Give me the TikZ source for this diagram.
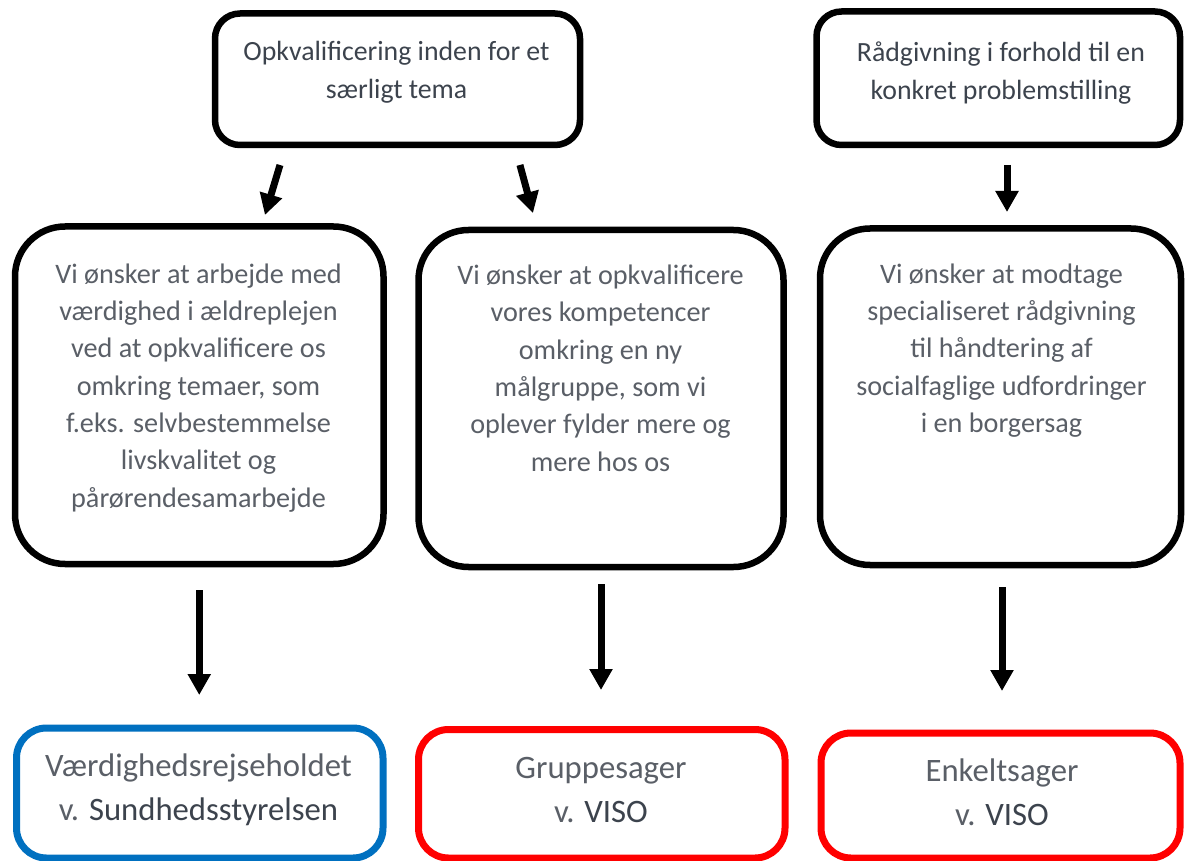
\documentclass[tikz,border=0pt]{standalone}
\usepackage{fontspec}
\setmainfont{Carlito}
\usetikzlibrary{arrows.meta}
\definecolor{darktxt}{HTML}{3C434D}
\definecolor{midtxt}{HTML}{5A5F67}
\definecolor{boxblue}{HTML}{0070C0}
\definecolor{boxred}{HTML}{FF0000}
\begin{document}
\begin{tikzpicture}[x=1pt,y=-1pt,
  box/.style={draw=black, line width=6.5pt, fill=white, inner sep=0pt, outer sep=0pt},
  topbox/.style={box, rounded corners=25pt},
  midbox/.style={box, rounded corners=50pt},
  endbox/.style={line width=7pt, fill=white, inner sep=0pt, outer sep=0pt, rounded corners=30pt},
  toptext/.style={anchor=base, align=center, inner sep=0pt, text=darktxt, font={\fontsize{27.8}{37.5}\selectfont}},
  midtext/.style={anchor=base, align=center, inner sep=0pt, text=midtxt, font={\fontsize{28.2}{37.3}\selectfont}},
  endtext/.style={anchor=base, align=center, inner sep=0pt, text=midtxt, font={\fontsize{32.7}{43.5}\selectfont}},
  arr/.style={line width=7pt, -{Triangle[length=21pt,width=22pt]}}
]
\useasboundingbox (0,0) rectangle (1186,861);
\clip (0,0) rectangle (1186,861);
\fill[white] (0,0) rectangle (1186,861);

% top boxes
\node[topbox, minimum width=365pt, minimum height=131.5pt] (t1) at (397.5,79.25) {};
\node[topbox, minimum width=363.5pt, minimum height=133.5pt] (t2) at (998.25,78.25) {};
% middle boxes
\node[midbox, minimum width=368.5pt, minimum height=337.5pt] (m1) at (199.25,395.25) {};
\node[midbox, minimum width=365pt, minimum height=337pt] (m2) at (601,398.5) {};
\node[midbox, minimum width=361pt, minimum height=336.5pt] (m3) at (1000.5,396.75) {};
% bottom boxes
\node[endbox, draw=boxblue, minimum width=366.5pt, minimum height=130pt] (b1) at (199.75,793) {};
\node[endbox, draw=boxred, minimum width=366.5pt, minimum height=128.5pt] (b2) at (601.75,793.75) {};
\node[endbox, draw=boxred, minimum width=359pt, minimum height=125pt] (b3) at (1000.5,795.5) {};

% texts (anchor base = baseline of the last line)
\node[toptext] (t1txt) at (396.5,98.5) {Opkvalificering inden for et\\særligt tema};
\node[toptext] (t2txt) at (1001,99.5) {Rådgivning i forhold til en\\konkret problemstilling};

\node[midtext] (m1txt) at (198.5,507) {Vi ønsker at arbejde med\\værdighed i ældreplejen\\ved at opkvalificere os\\omkring temaer, som\\f.eks. selvbestemmelse\\livskvalitet og\\pårørendesamarbejde};
\node[midtext] (m2txt) at (600.5,471) {Vi ønsker at opkvalificere\\vores kompetencer\\omkring en ny\\målgruppe, som vi\\oplever fylder mere og\\mere hos os};
\node[midtext] (m3txt) at (1001.5,432.5) {Vi ønsker at modtage\\specialiseret rådgivning\\til håndtering af\\socialfaglige udfordringer\\i en borgersag};

\node[endtext] (b1txt) at (198.5,820) {Værdighedsrejseholdet\\v. \textcolor{darktxt}{Sundhedsstyrelsen}};
\node[endtext] (b2txt) at (601,822) {Gruppesager\\v. \textcolor{darktxt}{VISO}};
\node[endtext] (b3txt) at (1002,825) {Enkeltsager\\v. \textcolor{darktxt}{VISO}};

% arrows top -> middle
\draw[arr, shorten <=20.9pt, shorten >=12pt] ([xshift=-111.5pt]t1.south) -- ([xshift=62.25pt]m1.north);
\draw[arr, shorten <=20.7pt, shorten >=17.6pt] ([xshift=117pt]t1.south) -- ([xshift=-63.4pt]m2.north);
\draw[arr, shorten <=20pt, shorten >=16.5pt] ([xshift=8.75pt]t2.south) -- ([xshift=6.5pt]m3.north);
% arrows middle -> bottom
\draw[arr, shorten <=26pt, shorten >=33pt] (m1.south) -- (m1.south |- b1.north);
\draw[arr, shorten <=17pt, shorten >=39.5pt] (m2.south) -- (m2.south |- b2.north);
\draw[arr, shorten <=22pt, shorten >=42pt] ([xshift=1.5pt]m3.south) -- ([xshift=1.5pt]m3.south |- b3.north);
\end{tikzpicture}
\end{document}
